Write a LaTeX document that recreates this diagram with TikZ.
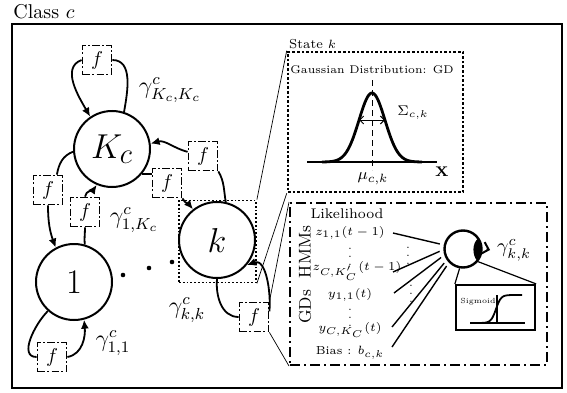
\documentclass[tikz,border=0pt]{standalone}
\usepackage{amsmath}
\usepackage{amssymb}
\usepackage{fontspec}
\usetikzlibrary{arrows.meta,calc,positioning}

\tikzset{
  stnode/.style={circle, draw, line width=1pt, minimum size=38pt, inner sep=0pt, font=\fontsize{19}{22}\selectfont},
  fnode/.style={draw, line width=0.9pt, dash pattern=on 3.6pt off 1.3pt on 0.8pt off 1.3pt, minimum size=14.5pt, inner sep=0pt},
  trans/.style={line width=0.9pt},
  arr/.style={trans, -{Latex[length=4.5pt,width=4pt]}},
  zoomline/.style={line width=0.35pt},
  gam/.style={font=\large},
  lik/.style={font=\fontsize{6.5}{8}\selectfont},
  vdot/.style={inner sep=0pt, font=\fontsize{5.5}{5.5}\selectfont},
}

\begin{document}
\begin{tikzpicture}[x=0.5pt,y=0.5pt]
\useasboundingbox (0,0) rectangle (567,392);

\node[anchor=west, inner sep=0pt] (title) at (13,380) {Class $c$};
\draw[line width=1.1pt] (12,368) rectangle (562,4);

\node[stnode] (Kc) at (112,243) {$K_c$};
\node[stnode] (one) at (74,110) {$1$};
\node[stnode] (k) at (217,152) {$k$};
\node[draw, densely dotted, line width=0.9pt, minimum width=38.5pt, minimum height=41pt] (ksq) at (217.5,150.5) {};
\fill (123,117) circle (2.3) (149,124) circle (2.3) (172,130) circle (2.3);

\node[fnode] (fKK) at (97,332) {$f$};
\node[fnode] (fkK) at (203,236) {$f$};
\node[fnode] (fKk) at (167,209) {$f$};
\node[fnode] (fK1) at (48,202) {$f$};
\node[fnode] (f1K) at (85,180) {$f$};
\node[fnode] (f11) at (52,35) {$f$};
\node[fnode] (fkk) at (254,75) {$f$};

\draw[trans] (Kc.72) to[out=80,in=0] (fKK.east);
\draw[arr] (fKK.west) to[out=200,in=120] (Kc.124);
\draw[trans] (Kc.184) to[out=200,in=80] (fK1.60);
\draw[arr] (fK1.south) to[out=-90,in=110] (one.118);
\draw[trans] (one.74) to[out=95,in=-90] (f1K.south);
\draw[arr] (f1K.north) to[out=80,in=235] (Kc.247);
\draw[trans] (k.77) to[out=100,in=-60] (fkK.south east);
\draw[arr] (fkK.165) to[out=165,in=15] (Kc.8);
\draw[trans] (Kc.-40) -- (Kc.-40 -| fKk.west);
\draw[arr] (fKk.south east) to[out=-60,in=130] (k.128);
\draw[trans] (k.-90) to[out=-95,in=180] (fkk.west);
\draw[arr] (fkk.20) to[out=85,in=20] (k.-40);
\draw[trans] (one.228) to[out=225,in=180] (f11.west);
\draw[arr] (f11.east) to[out=10,in=-85] (one.-75);

\node[gam] (gKK) at (170,302) {$\gamma^{c}_{K_c,K_c}$};
\node[gam] (g1K) at (134,172) {$\gamma^{c}_{1,K_c}$};
\node[gam] (gkk) at (187,82) {$\gamma^{c}_{k,k}$};
\node[gam] (g11) at (113,49) {$\gamma^{c}_{1,1}$};

% state k
\node[draw, densely dotted, line width=1.3pt, minimum width=87.5pt, minimum height=70pt] (state) at (375.5,270) {};
\node[anchor=south west, inner sep=1pt, font=\fontsize{6.5}{8}\selectfont] (statelbl) at (state.north west) {State $k$};
\draw[zoomline] (ksq.north east) -- (state.north west);
\draw[zoomline] (ksq.south east) -- (state.south west);
\node[font=\fontsize{5.6}{7}\selectfont] (gdlbl) at (372,322) {Gaussian Distribution: GD};
\draw[line width=0.8pt] (307,230) -- (437,230);
\draw[line width=1.4pt] plot[domain=322:422, samples=80, smooth] (\x, {230+69*exp(-((\x-372)^2)/338)});
\draw[densely dashed, line width=0.5pt] (372,312) -- (372,222);
\draw[line width=0.5pt, {Straight Barb[length=2pt]}-{Straight Barb[length=2pt]}] (359,272) -- (385,272);
\node[font=\scriptsize] (sig) at (413,279) {$\Sigma_{c,k}$};
\node[font=\footnotesize] (mu) at (373,213) {$\mu_{c,k}$};
\node[font=\scriptsize] (xlbl) at (442,220) {\textbf{X}};

% likelihood
\node[draw, line width=1pt, dash pattern=on 5pt off 2pt on 1pt off 2pt, minimum width=128.5pt, minimum height=81pt] (likbox) at (418.5,108) {};
\draw[zoomline] (fkk.north east) -- (likbox.north west);
\draw[zoomline] (fkk.south east) -- (likbox.south west);
\node[font=\fontsize{7}{8}\selectfont] (liklbl) at (347,178) {Likelihood};
\node[rotate=90, font=\fontsize{8.5}{10}\selectfont] (hmm) at (305,140) {HMMs};
\node[rotate=90, font=\fontsize{8.5}{10}\selectfont] (gds) at (305,85) {GDs};
\node[lik] (z1) at (350,159) {$z_{1,1}(t-1)$};
\node[vdot] (zd) at (350,141) {$\vdots$};
\node[lik] (zC) at (357,121) {$z_{C,K'_C}(t-1)$};
\node[lik] (y1) at (350,97) {$y_{1,1}(t)$};
\node[vdot] (yd) at (350,80) {$\vdots$};
\node[lik] (yC) at (350,62) {$y_{C,K_C}(t)$};
\node[font=\fontsize{5.8}{7}\selectfont] (bias) at (350,39) {Bias : $b_{c,k}$};

\node[circle, draw, line width=1.2pt, minimum size=18.5pt, inner sep=0pt] (nrn) at (463,143) {};
\fill (478.2,153.6) arc[start angle=35, end angle=-40, radius=18.5] .. controls (472,137) and (472,149) .. (478.2,153.6) -- cycle;

\coordinate (in1) at (393,159);
\coordinate (in2) at (393,120);
\coordinate (in3) at (394,99);
\coordinate (in4) at (392,65);
\coordinate (in5) at (392,45);
\draw[line width=0.7pt, shorten >=2pt] (in1) -- (nrn.168);
\draw[line width=0.7pt, shorten >=2pt] (in2) -- (nrn.182);
\draw[line width=0.7pt, shorten >=2pt] (in3) -- (nrn.198);
\draw[line width=0.7pt, shorten >=2pt] (in4) -- (nrn.214);
\draw[line width=0.7pt, shorten >=2pt] (in5) -- (nrn.224);
\node[vdot] (d1) at (408,142) {$\vdots$};
\node[vdot] (d2) at (411,104) {$\vdots$};

\node (gout) at (514,142) {$\gamma^{c}_{k,k}$};
\draw[line width=1pt, -{Straight Barb[length=3pt]}] ([xshift=2pt]nrn.east) -- (gout.west);

\node[draw, line width=1.1pt, minimum width=39.5pt, minimum height=22.5pt] (sigbox) at (495.5,84.5) {};
\draw[line width=0.6pt] (nrn.-40) -- (sigbox.north east);
\draw[line width=0.6pt] (nrn.-100) -- (sigbox.north west);
\node[font=\fontsize{3.7}{4}\selectfont] (siglbl) at (478,90) {Sigmoid};
\draw[line width=0.6pt] (470,69) -- (525,69);
\draw[line width=0.6pt] (497,97) -- (497,69);
\draw[line width=0.9pt] plot[domain=477:522, samples=50, smooth] (\x, {69+28/(1+exp(-(\x-496)/2.5))});
\end{tikzpicture}
\end{document}
